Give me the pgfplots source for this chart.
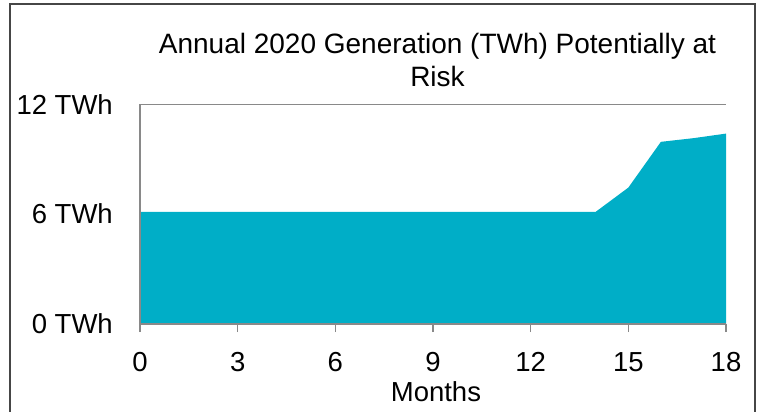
\documentclass[border=0pt]{standalone}
\usepackage{fontspec}
\setmainfont{Liberation Sans}
\usepackage{pgfplots}
\pgfplotsset{compat=1.18}
\definecolor{areateal}{RGB}{0,174,199}
\definecolor{axgray}{RGB}{137,137,137}
\definecolor{framegray}{RGB}{70,70,70}
\begin{document}
\begin{tikzpicture}[x=1pt,y=1pt]
\useasboundingbox (0,0) rectangle (761,412);
\draw[framegray, line width=1.5pt] (10,-10) -- (10,408) -- (755,408) -- (755,-10);
\node[anchor=base, inner sep=0pt, font=\fontsize{28}{32}\selectfont] at (437.5,358.7) {Annual 2020 Generation (TWh) Potentially at};
\node[anchor=base, inner sep=0pt, font=\fontsize{28}{32}\selectfont] at (437.5,325.3) {Risk};
\begin{axis}[
  at={(140pt,88pt)}, anchor=south west,
  scale only axis, width=586pt, height=219.7pt,
  xmin=0, xmax=18, ymin=0, ymax=12,
  xtick={0,3,...,18}, ytick={0,6,12},
  /pgf/number format/assume math mode=true,
  axis x line=bottom, axis y line=left,
  axis line style={-, axgray, line width=1.5pt},
  axis on top,
  tick align=outside,
  major tick length=8pt,
  xtick style={axgray, line width=1.5pt},
  ytick style={draw=none},
  yticklabel={\pgfmathprintnumber{\tick} TWh},
  extra y ticks={12}, extra y tick labels={},
  extra y tick style={grid=major, major grid style={axgray, line width=1.5pt}},
  tick label style={font=\fontsize{27.5}{31}\selectfont, inner sep=0pt},
  xticklabel style={anchor=base, yshift=-39pt},
  yticklabel style={anchor=east, xshift=-19pt},
  xlabel={Months},
  xlabel style={font=\fontsize{27.5}{31}\selectfont, inner sep=0pt, anchor=base, at={(axis description cs:0.505,0)}, yshift=-77.7pt},
]
\addplot[fill=areateal, draw=none] coordinates {
(0,6.13) (1,6.13) (2,6.13) (3,6.13) (4,6.13) (5,6.13) (6,6.13) (7,6.13)
(8,6.13) (9,6.13) (10,6.13) (11,6.13) (12,6.13) (13,6.13) (14,6.13)
(15,7.45) (16,9.95) (17,10.15) (18,10.4)
} \closedcycle;
\end{axis}
\end{tikzpicture}
\end{document}
